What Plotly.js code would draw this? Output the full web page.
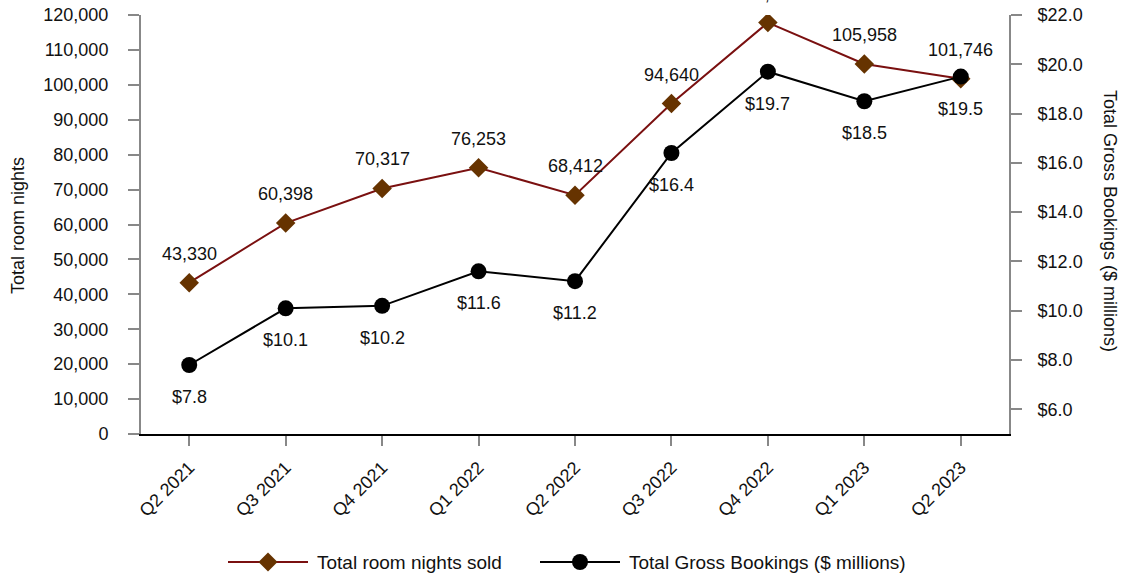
<!DOCTYPE html>
<html>
<head>
<meta charset="utf-8">
<script src="https://cdn.plot.ly/plotly-3.0.1.min.js"></script>
<style>html,body{margin:0;padding:0;background:#fff;}#chart{width:1124px;height:577px;}</style>
</head>
<body>
<div id="chart"></div>
<script>
const quarters = ["Q2 2021","Q3 2021","Q4 2021","Q1 2022","Q2 2022","Q3 2022","Q4 2022","Q1 2023","Q2 2023"];
const roomNights = [43330, 60398, 70317, 76253, 68412, 94640, 117823, 105958, 101746];
const grossBookings = [7.8, 10.1, 10.2, 11.6, 11.2, 16.4, 19.7, 18.5, 19.5];
const leftTicks = [0,10000,20000,30000,40000,50000,60000,70000,80000,90000,100000,110000,120000];
const rightTicks = [6,8,10,12,14,16,18,20,22];
const seriesNames = ["Total room nights sold", "Total Gross Bookings ($ millions)"];

const font = "Liberation Sans, Arial, Helvetica, sans-serif";
const roomLine = "#7a1010", roomMarker = "#663300";

// plot area in pixels
const PL = 141, PR = 1009, PT = 15, PB = 434;
const px2x = p => (p - PL) / (PR - PL);
const px2y = p => (PB - p) / (PB - PT);

const traces = [
  {
    x: quarters, y: roomNights, name: seriesNames[0], type: "scatter", mode: "lines+markers",
    line: {color: roomLine, width: 2},
    marker: {symbol: "diamond", size: 15, color: roomMarker},
    yaxis: "y", showlegend: false
  },
  {
    x: quarters, y: grossBookings, name: seriesNames[1], type: "scatter", mode: "lines+markers",
    line: {color: "#000000", width: 2},
    marker: {symbol: "circle", size: 16, color: "#000000"},
    yaxis: "y2", showlegend: false
  }
];

const annotations = [];
quarters.forEach((q, i) => {
  annotations.push({x: q, y: roomNights[i], xref: "x", yref: "y", text: roomNights[i].toLocaleString("en-US"),
    showarrow: false, yshift: 29, font: {family: font, size: 18, color: "#111"}});
  annotations.push({x: q, y: grossBookings[i], xref: "x", yref: "y2", text: "$" + grossBookings[i].toFixed(1),
    showarrow: false, yshift: -32, font: {family: font, size: 18, color: "#111"}});
});
// axis titles
annotations.push({xref: "paper", yref: "paper", x: 0, xanchor: "center", xshift: 18 - PL, y: px2y(226), yanchor: "middle",
  text: "Total room nights", textangle: -90, showarrow: false, font: {family: font, size: 18, color: "#111"}});
annotations.push({xref: "paper", yref: "paper", x: 1, xanchor: "center", xshift: 1110 - PR, y: px2y(221), yanchor: "middle",
  text: "Total Gross Bookings ($ millions)", textangle: 90, showarrow: false, font: {family: font, size: 18, color: "#111"}});

// legend drawn with shapes + text
const LY = px2y(562);
annotations.push({xref: "paper", yref: "paper", x: px2x(315), xanchor: "left", y: LY, yanchor: "middle",
  text: seriesNames[0], showarrow: false, font: {family: font, size: 19, color: "#111"}});
annotations.push({xref: "paper", yref: "paper", x: px2x(627), xanchor: "left", y: LY, yanchor: "middle",
  text: seriesNames[1], showarrow: false, font: {family: font, size: 19, color: "#111"}});

const shapes = [
  {type: "line", xref: "paper", yref: "paper", x0: px2x(228), x1: px2x(308), y0: LY, y1: LY, line: {color: roomLine, width: 2}},
  {type: "path", xref: "paper", yref: "paper", xsizemode: "pixel", ysizemode: "pixel", xanchor: px2x(268), yanchor: LY,
    path: "M0,-9.5 L9.5,0 L0,9.5 L-9.5,0 Z", fillcolor: roomMarker, line: {width: 0}},
  {type: "line", xref: "paper", yref: "paper", x0: px2x(540), x1: px2x(620), y0: LY, y1: LY, line: {color: "#000", width: 2}},
  {type: "circle", xref: "paper", yref: "paper", xsizemode: "pixel", ysizemode: "pixel", xanchor: px2x(580), yanchor: LY,
    x0: -8, x1: 8, y0: -8, y1: 8, fillcolor: "#000", line: {width: 0}}
];

const layout = {
  width: 1124, height: 577,
  margin: {l: PL, r: 1124 - PR, t: PT, b: 577 - PB},
  paper_bgcolor: "#fff", plot_bgcolor: "#fff",
  font: {family: font, size: 18, color: "#111"},
  showlegend: false,
  xaxis: {
    type: "category", range: [-0.5, 8.5], tickangle: -45, automargin: false,
    showline: true, linecolor: "#000", linewidth: 2,
    ticks: "outside", ticklen: 10, tickcolor: "#888", tickwidth: 2,
    showgrid: false, zeroline: false, tickfont: {family: font, size: 18, color: "#111"},
    ticklabelstandoff: 4
  },
  yaxis: {
    range: [0, 120000], tickvals: leftTicks, ticktext: leftTicks.map(v => v.toLocaleString("en-US")), automargin: false,
    showline: true, linecolor: "#888", linewidth: 2,
    ticks: "outside", ticklen: 11, tickcolor: "#888", tickwidth: 2,
    showgrid: false, zeroline: false, tickfont: {family: font, size: 18, color: "#111"},
    ticklabelstandoff: 16
  },
  yaxis2: {
    overlaying: "y", side: "right", range: [5, 22], tickvals: rightTicks, ticktext: rightTicks.map(v => "$" + v.toFixed(1)), automargin: false,
    showline: true, linecolor: "#888", linewidth: 2,
    ticks: "outside", ticklen: 11, tickcolor: "#888", tickwidth: 2,
    showgrid: false, zeroline: false, tickfont: {family: font, size: 18, color: "#111"},
    ticklabelstandoff: 12
  },
  annotations: annotations,
  shapes: shapes
};

Plotly.newPlot("chart", traces, layout, {displayModeBar: false, staticPlot: true});
</script>
</body>
</html>
